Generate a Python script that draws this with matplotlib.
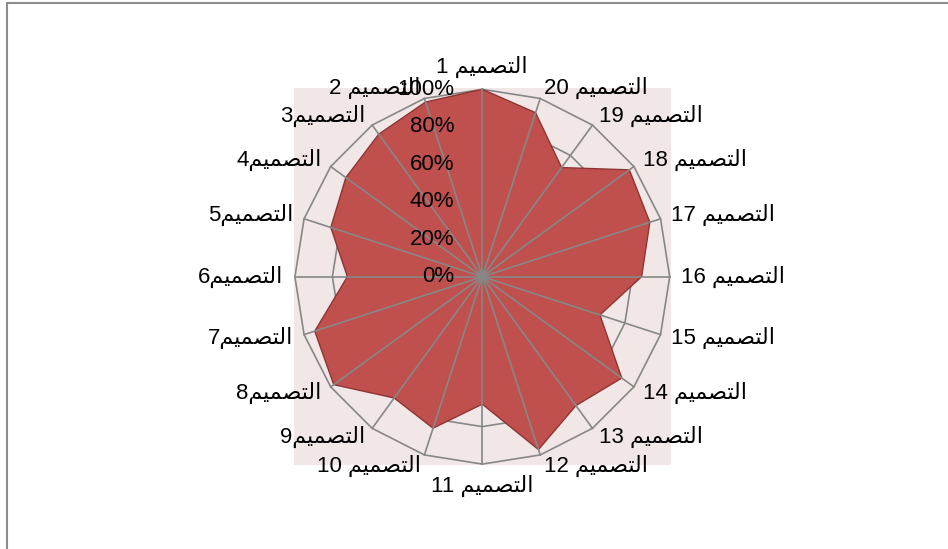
import numpy as np
import matplotlib
matplotlib.use("Agg")
import matplotlib.pyplot as plt
from matplotlib.patches import Rectangle
from matplotlib.transforms import offset_copy

plt.rcParams['font.family'] = ['Liberation Sans', 'DejaVu Sans']

designs = ["التصميم 1", "التصميم 2", "التصميم3", "التصميم4", "التصميم5",
           "التصميم6", "التصميم7", "التصميم8", "التصميم9", "التصميم 10",
           "التصميم 11", "التصميم 12", "التصميم 13", "التصميم 14", "التصميم 15",
           "التصميم 16", "التصميم 17", "التصميم 18", "التصميم 19", "التصميم 20"]
values = [100, 98, 94, 90, 85, 72, 94, 98, 80, 85,
          68, 97, 85, 92, 66, 85, 94, 97, 72, 92]
r_ticks = [0, 20, 40, 60, 80, 100]
r_labels = ["0%", "20%", "40%", "60%", "80%", "100%"]

# matplotlib has no arabic shaping, so pick presentation forms by hand
# letter: (isolated, final, initial, medial)
FORMS = {
    "ا": ("\uFE8D", "\uFE8E", None, None),
    "ل": ("\uFEDD", "\uFEDE", "\uFEDF", "\uFEE0"),
    "ت": ("\uFE95", "\uFE96", "\uFE97", "\uFE98"),
    "ص": ("\uFEB9", "\uFEBA", "\uFEBB", "\uFEBC"),
    "م": ("\uFEE1", "\uFEE2", "\uFEE3", "\uFEE4"),
    "ي": ("\uFEF1", "\uFEF2", "\uFEF3", "\uFEF4"),
}


def shape(word):
    out = []
    for i, ch in enumerate(word):
        iso, fin, ini, med = FORMS[ch]
        joins_prev = i > 0 and FORMS[word[i - 1]][2] is not None
        joins_next = i < len(word) - 1 and ini is not None
        if joins_prev and joins_next:
            out.append(med)
        elif joins_prev:
            out.append(fin)
        elif joins_next:
            out.append(ini)
        else:
            out.append(iso)
    return "".join(reversed(out))


def visual(label):
    word = label.rstrip("0123456789 ")
    num = label[len(word):]
    sep = " " if num.startswith(" ") else ""
    return num.strip() + sep + shape(word)


W, H = 948, 549
fig = plt.figure(figsize=(W / 100, H / 100), dpi=100)

cx, cy, R = 482.3, 276.7, 187.4
box = [(cx - R) / W, (H - cy - R) / H, 2 * R / W, 2 * R / H]

fig.add_artist(Rectangle((box[0] - 1 / W, box[1] - 1 / H), box[2] + 2 / W, box[3] + 2 / H,
                         transform=fig.transFigure, facecolor="#f2e7e7",
                         edgecolor="none", zorder=0))
fig.add_artist(Rectangle((7 / W, -0.1), 1.2, 1.1 - 3 / H, transform=fig.transFigure,
                         fill=False, edgecolor="#8c8c8c", lw=1.5, zorder=0))

ax = fig.add_axes(box, projection="polar")
ax.set_facecolor("none")
ax.set_theta_offset(np.pi / 2)
ax.set_ylim(0, 100)
ax.grid(False)
ax.spines["polar"].set_visible(False)
ax.set_xticks([])
ax.set_yticks([])

n = len(designs)
theta = np.arange(n) * 2 * np.pi / n
grid_col = "#878787"

for t in r_ticks[1:]:
    ax.plot(np.append(theta, theta[0]), [t] * (n + 1), color=grid_col, lw=1.2,
            zorder=1, clip_on=False)

ax.fill(theta, values, facecolor="#c0504d", edgecolor="#8e3533", lw=1.0, zorder=2)

for th in theta:
    ax.plot([th, th], [0, 100], color=grid_col, lw=1.2, zorder=3, clip_on=False)

tick_tr = offset_copy(ax.transData, fig=fig, x=-28, y=0, units="dots")
for t, lab in zip(r_ticks, r_labels):
    ax.text(0, t, lab, transform=tick_tr, ha="right", va="center", fontsize=16, zorder=4)

for th, lab in zip(theta, designs):
    ang = th + np.pi / 2
    c, s = np.cos(ang), np.sin(ang)
    if abs(c) < 0.05:
        ha, va = "center", ("bottom" if s > 0 else "top")
    else:
        ha, va = ("left" if c > 0 else "right"), "center"
    ax.text(th, 106, visual(lab), ha=ha, va=va, fontsize=16, zorder=4)

fig.savefig("out.png", dpi=100)
